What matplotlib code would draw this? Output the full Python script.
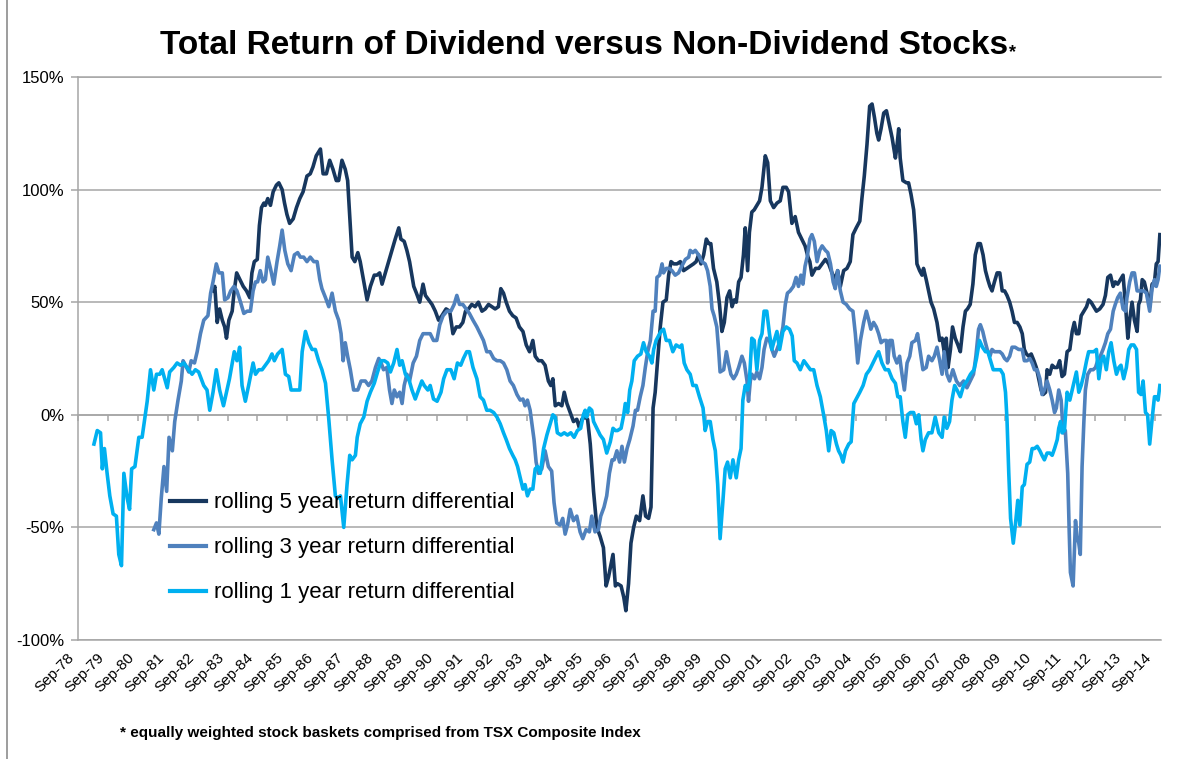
import matplotlib
matplotlib.use("Agg")
import matplotlib.pyplot as plt
import matplotlib.transforms as mtransforms
from matplotlib.lines import Line2D

# values: (decimal year, % differential)
roll5 = [
    (1983.18, 55), (1983.24, 57), (1983.32, 41), (1983.40, 47), (1983.49, 42), (1983.57, 39),
    (1983.63, 34), (1983.71, 42), (1983.82, 46), (1983.88, 54), (1983.97, 63), (1984.08, 60),
    (1984.19, 57), (1984.30, 55), (1984.41, 52), (1984.48, 63), (1984.56, 68), (1984.66, 69),
    (1984.73, 84), (1984.80, 92), (1984.88, 94), (1984.93, 93), (1985.01, 96), (1985.10, 93),
    (1985.19, 99), (1985.30, 102), (1985.38, 103), (1985.49, 100), (1985.57, 94), (1985.65, 89),
    (1985.74, 85), (1985.86, 87), (1985.97, 92), (1986.08, 96), (1986.19, 99), (1986.32, 106),
    (1986.43, 107), (1986.52, 110), (1986.63, 115), (1986.77, 118), (1986.86, 107), (1986.97, 107),
    (1987.08, 113), (1987.19, 109), (1987.30, 104), (1987.38, 104), (1987.49, 113), (1987.60, 109),
    (1987.68, 104), (1987.75, 88), (1987.83, 70), (1987.92, 68), (1988.02, 72), (1988.10, 68),
    (1988.22, 59), (1988.33, 51), (1988.44, 57), (1988.57, 62), (1988.66, 62), (1988.75, 63),
    (1988.83, 58), (1988.94, 63), (1989.05, 68), (1989.16, 73), (1989.27, 78), (1989.39, 83),
    (1989.46, 78), (1989.57, 77), (1989.66, 73), (1989.75, 68), (1989.89, 57), (1989.98, 54),
    (1990.09, 50), (1990.20, 58), (1990.28, 53), (1990.39, 51), (1990.50, 49), (1990.61, 46),
    (1990.72, 42), (1990.83, 44), (1990.97, 47), (1991.09, 46), (1991.20, 36), (1991.31, 39),
    (1991.42, 39), (1991.53, 41), (1991.62, 46), (1991.72, 47), (1991.83, 49), (1991.94, 48),
    (1992.05, 50), (1992.17, 46), (1992.28, 47), (1992.39, 49), (1992.50, 48), (1992.61, 47),
    (1992.72, 48), (1992.80, 56), (1992.89, 54), (1992.98, 50), (1993.09, 46), (1993.20, 44),
    (1993.31, 43), (1993.42, 39), (1993.54, 37), (1993.65, 31), (1993.76, 28), (1993.87, 33),
    (1993.95, 26), (1994.06, 24), (1994.17, 24), (1994.28, 22), (1994.39, 15), (1994.47, 13),
    (1994.54, 16), (1994.62, 4), (1994.73, 5), (1994.84, 4), (1994.92, 10), (1995.01, 5),
    (1995.12, 1), (1995.23, -3), (1995.34, -2), (1995.43, -6), (1995.51, -2), (1995.62, -1),
    (1995.70, -2), (1995.79, -13), (1995.90, -34), (1996.01, -50), (1996.12, -54), (1996.23, -59),
    (1996.32, -76), (1996.40, -72), (1996.46, -68), (1996.55, -62), (1996.63, -76), (1996.70, -75),
    (1996.82, -76), (1996.91, -81), (1996.98, -87), (1997.07, -75), (1997.15, -57), (1997.24, -50),
    (1997.33, -45), (1997.44, -47), (1997.55, -36), (1997.64, -45), (1997.74, -46), (1997.82, -41),
    (1997.89, 3), (1997.96, 10), (1998.04, 24), (1998.13, 39), (1998.22, 50), (1998.33, 51),
    (1998.41, 62), (1998.49, 68), (1998.58, 67), (1998.69, 67), (1998.80, 68), (1998.91, 64),
    (1999.02, 65), (1999.13, 66), (1999.24, 67), (1999.33, 68), (1999.41, 71), (1999.49, 67),
    (1999.58, 71), (1999.67, 78), (1999.75, 76), (1999.82, 76), (1999.91, 65), (2000.02, 59),
    (2000.11, 49), (2000.19, 37), (2000.27, 41), (2000.36, 52), (2000.45, 55), (2000.53, 48),
    (2000.60, 51), (2000.67, 50), (2000.75, 59), (2000.83, 61), (2000.91, 71), (2000.97, 83),
    (2001.05, 64), (2001.11, 81), (2001.19, 90), (2001.27, 91), (2001.36, 93), (2001.45, 95),
    (2001.53, 101), (2001.64, 115), (2001.72, 112), (2001.81, 95), (2001.92, 92), (2002.03, 94),
    (2002.14, 95), (2002.23, 101), (2002.34, 101), (2002.42, 99), (2002.53, 85), (2002.64, 88),
    (2002.75, 81), (2002.86, 78), (2002.97, 75), (2003.07, 70), (2003.13, 68), (2003.20, 62),
    (2003.32, 65), (2003.43, 65), (2003.54, 67), (2003.65, 69), (2003.76, 67), (2003.87, 63),
    (2003.98, 60), (2004.06, 64), (2004.15, 57), (2004.26, 64), (2004.37, 65), (2004.48, 68),
    (2004.57, 80), (2004.68, 83), (2004.80, 86), (2004.87, 96), (2004.95, 106), (2005.04, 120),
    (2005.13, 137), (2005.21, 138), (2005.29, 132), (2005.37, 125), (2005.43, 122), (2005.51, 127),
    (2005.60, 134), (2005.69, 135), (2005.77, 130), (2005.88, 123), (2005.99, 114), (2006.04, 119),
    (2006.10, 127), (2006.15, 114), (2006.24, 104), (2006.36, 103), (2006.43, 103), (2006.51, 98),
    (2006.60, 91), (2006.66, 80), (2006.71, 67), (2006.80, 64), (2006.88, 62), (2006.93, 65),
    (2007.02, 60), (2007.10, 55), (2007.18, 50), (2007.27, 47), (2007.38, 41), (2007.47, 33),
    (2007.55, 34), (2007.62, 28), (2007.69, 34), (2007.75, 21), (2007.83, 29), (2007.90, 39),
    (2007.99, 34), (2008.08, 31), (2008.16, 28), (2008.25, 39), (2008.33, 46), (2008.40, 47),
    (2008.49, 49), (2008.58, 58), (2008.66, 71), (2008.75, 76), (2008.83, 76), (2008.92, 71),
    (2009.00, 64), (2009.08, 60), (2009.15, 57), (2009.22, 55), (2009.30, 59), (2009.39, 63),
    (2009.48, 63), (2009.56, 55), (2009.64, 55), (2009.72, 53), (2009.81, 50), (2009.89, 46),
    (2009.97, 41), (2010.06, 41), (2010.15, 39), (2010.23, 36), (2010.30, 29), (2010.37, 27),
    (2010.45, 26), (2010.53, 27), (2010.62, 24), (2010.70, 21), (2010.78, 16), (2010.86, 11),
    (2010.93, 9), (2011.01, 10), (2011.06, 20), (2011.15, 18), (2011.23, 22), (2011.31, 21),
    (2011.40, 21), (2011.48, 24), (2011.56, 17), (2011.64, 18), (2011.73, 28), (2011.82, 29),
    (2011.90, 37), (2011.97, 41), (2012.04, 36), (2012.12, 36), (2012.20, 44), (2012.29, 46),
    (2012.38, 48), (2012.45, 51), (2012.53, 50), (2012.62, 48), (2012.71, 46), (2012.82, 47),
    (2012.93, 49), (2013.01, 53), (2013.09, 61), (2013.18, 62), (2013.27, 57), (2013.34, 59),
    (2013.42, 58), (2013.51, 60), (2013.60, 62), (2013.68, 49), (2013.76, 34), (2013.82, 42),
    (2013.90, 50), (2013.98, 42), (2014.07, 37), (2014.12, 49), (2014.18, 51), (2014.24, 60),
    (2014.31, 59), (2014.40, 54), (2014.49, 48), (2014.57, 58), (2014.65, 59), (2014.71, 67),
    (2014.77, 68), (2014.83, 80),
]

roll3 = [
    (1981.20, -51), (1981.29, -48), (1981.37, -53), (1981.45, -37), (1981.54, -23), (1981.63, -34),
    (1981.71, -10), (1981.82, -16), (1981.90, -3), (1982.01, 6.5), (1982.12, 15), (1982.18, 24),
    (1982.26, 22), (1982.37, 19), (1982.45, 24), (1982.56, 23), (1982.65, 28), (1982.76, 36),
    (1982.87, 42), (1983.01, 44), (1983.10, 54), (1983.18, 59), (1983.29, 67), (1983.38, 63),
    (1983.49, 63), (1983.57, 51), (1983.68, 52), (1983.77, 55), (1983.88, 57), (1983.98, 55),
    (1984.10, 50), (1984.21, 45), (1984.32, 46), (1984.43, 46), (1984.52, 55), (1984.60, 59),
    (1984.67, 59), (1984.76, 64), (1984.85, 59), (1984.93, 60), (1985.01, 70), (1985.10, 65),
    (1985.21, 58), (1985.32, 68), (1985.41, 75), (1985.49, 82), (1985.58, 73), (1985.68, 67),
    (1985.79, 64), (1985.90, 71), (1986.01, 72), (1986.10, 70), (1986.21, 70), (1986.32, 68),
    (1986.43, 70), (1986.55, 68), (1986.66, 68), (1986.75, 60), (1986.82, 56), (1986.94, 52),
    (1987.05, 48), (1987.16, 54), (1987.27, 46), (1987.38, 42), (1987.46, 36), (1987.53, 24),
    (1987.60, 32), (1987.68, 26), (1987.77, 20), (1987.88, 11), (1988.02, 11), (1988.13, 15),
    (1988.27, 15), (1988.38, 13), (1988.49, 15), (1988.61, 21), (1988.72, 25), (1988.80, 23),
    (1988.88, 20), (1988.99, 21), (1989.08, 11), (1989.16, 5), (1989.24, 11), (1989.33, 8),
    (1989.42, 10), (1989.50, 5), (1989.57, 13), (1989.66, 18), (1989.75, 15), (1989.87, 23),
    (1989.98, 26), (1990.09, 33), (1990.20, 36), (1990.31, 36), (1990.44, 36), (1990.55, 33),
    (1990.66, 33), (1990.76, 40), (1990.87, 44), (1991.00, 46), (1991.13, 46), (1991.24, 49),
    (1991.33, 53), (1991.42, 49), (1991.53, 49), (1991.64, 47), (1991.75, 45), (1991.87, 42),
    (1992.00, 39), (1992.11, 36), (1992.22, 33), (1992.33, 28), (1992.44, 28), (1992.56, 25),
    (1992.67, 24), (1992.78, 24), (1992.89, 23), (1993.00, 20), (1993.11, 15), (1993.22, 13),
    (1993.34, 9), (1993.45, 6.5), (1993.54, 7), (1993.61, 4), (1993.69, 6.5), (1993.78, 2),
    (1993.84, -4), (1993.91, -11), (1993.98, -21), (1994.06, -26), (1994.17, -24), (1994.28, -16),
    (1994.39, -23), (1994.50, -25), (1994.58, -39), (1994.67, -48), (1994.78, -49), (1994.87, -46),
    (1994.95, -53), (1995.03, -49), (1995.12, -42), (1995.23, -47), (1995.34, -45), (1995.45, -52),
    (1995.54, -55), (1995.65, -51), (1995.76, -52), (1995.84, -45), (1995.95, -52), (1996.06, -51),
    (1996.14, -45), (1996.25, -41), (1996.34, -36), (1996.43, -26), (1996.52, -20), (1996.59, -20),
    (1996.68, -16), (1996.77, -21), (1996.85, -14), (1996.93, -21), (1997.02, -15), (1997.11, -11),
    (1997.22, -5), (1997.30, 2), (1997.37, 2), (1997.46, 8), (1997.55, 13), (1997.63, 21),
    (1997.71, 28), (1997.80, 33), (1997.89, 46), (1997.96, 46), (1998.02, 61), (1998.11, 62),
    (1998.19, 67), (1998.24, 63), (1998.33, 65), (1998.44, 65), (1998.52, 64), (1998.63, 62),
    (1998.74, 63), (1998.85, 66), (1998.97, 69), (1999.08, 70), (1999.13, 73), (1999.22, 72),
    (1999.30, 73), (1999.41, 71), (1999.52, 68), (1999.63, 67), (1999.71, 64), (1999.80, 57),
    (1999.86, 47), (1999.93, 44), (2000.02, 39), (2000.08, 29), (2000.13, 19), (2000.25, 20),
    (2000.34, 28), (2000.41, 23), (2000.49, 18), (2000.58, 16), (2000.67, 18), (2000.75, 21),
    (2000.86, 26), (2000.94, 23), (2001.03, 15), (2001.08, 6), (2001.14, 15), (2001.19, 18),
    (2001.28, 16), (2001.36, 19), (2001.45, 16), (2001.53, 21), (2001.60, 29), (2001.69, 34),
    (2001.78, 33), (2001.86, 29), (2001.94, 26), (2002.03, 29), (2002.14, 33), (2002.23, 39),
    (2002.31, 49), (2002.38, 54), (2002.47, 55), (2002.58, 57), (2002.67, 61), (2002.75, 57),
    (2002.83, 62), (2002.90, 58), (2002.97, 66), (2003.04, 70), (2003.13, 78), (2003.20, 80),
    (2003.28, 77), (2003.37, 68), (2003.46, 73), (2003.54, 75), (2003.65, 73), (2003.73, 72),
    (2003.82, 67), (2003.91, 59), (2003.98, 56), (2004.06, 64), (2004.15, 55), (2004.24, 50),
    (2004.35, 49), (2004.46, 47), (2004.57, 46), (2004.65, 36), (2004.73, 23), (2004.82, 33),
    (2004.93, 41), (2005.02, 46), (2005.10, 42), (2005.17, 38), (2005.26, 41), (2005.35, 39),
    (2005.43, 36), (2005.51, 32), (2005.60, 33), (2005.69, 33), (2005.73, 23), (2005.80, 33),
    (2005.88, 33), (2005.95, 26), (2006.04, 23), (2006.13, 26), (2006.21, 18), (2006.29, 11),
    (2006.38, 23), (2006.47, 26), (2006.54, 32), (2006.66, 33), (2006.73, 36), (2006.82, 28),
    (2006.91, 20), (2007.02, 21), (2007.10, 26), (2007.21, 24), (2007.29, 26), (2007.38, 30),
    (2007.47, 24), (2007.55, 18), (2007.62, 28), (2007.71, 18), (2007.80, 15), (2007.91, 20),
    (2008.03, 15), (2008.14, 13), (2008.27, 15), (2008.38, 12), (2008.49, 15), (2008.60, 18),
    (2008.68, 26), (2008.77, 38), (2008.83, 40), (2008.91, 37), (2008.98, 33), (2009.06, 29),
    (2009.15, 26), (2009.22, 29), (2009.30, 28), (2009.39, 28), (2009.48, 28), (2009.56, 27),
    (2009.64, 25), (2009.72, 24), (2009.81, 26), (2009.89, 30), (2009.99, 30), (2010.11, 29),
    (2010.23, 29), (2010.30, 24), (2010.39, 24), (2010.48, 25), (2010.56, 23), (2010.64, 20),
    (2010.73, 20), (2010.82, 16), (2010.89, 9), (2010.97, 11), (2011.06, 15), (2011.15, 11),
    (2011.23, 6.5), (2011.31, 1), (2011.37, 3), (2011.45, 11), (2011.53, 6.5), (2011.60, -8),
    (2011.67, -7), (2011.75, -26), (2011.80, -52), (2011.84, -70), (2011.93, -76), (2012.01, -47),
    (2012.06, -54), (2012.12, -57), (2012.17, -62), (2012.23, -23), (2012.29, -3), (2012.34, 11),
    (2012.42, 18), (2012.51, 20), (2012.60, 20), (2012.68, 21), (2012.75, 24), (2012.84, 26),
    (2012.93, 29), (2013.01, 32), (2013.09, 36), (2013.18, 38), (2013.27, 46), (2013.34, 49),
    (2013.42, 52), (2013.51, 54), (2013.60, 47), (2013.68, 46), (2013.73, 52), (2013.82, 59),
    (2013.90, 63), (2013.98, 63), (2014.07, 55), (2014.18, 55), (2014.29, 55), (2014.38, 54),
    (2014.49, 46), (2014.57, 56), (2014.65, 60), (2014.71, 57), (2014.77, 60), (2014.83, 66),
]

roll1 = [
    (1979.20, -13), (1979.31, -7), (1979.42, -8), (1979.48, -24), (1979.55, -15), (1979.64, -26),
    (1979.73, -36), (1979.84, -44), (1979.95, -45), (1980.03, -62), (1980.12, -67), (1980.20, -26),
    (1980.31, -37), (1980.39, -42), (1980.46, -24), (1980.57, -23), (1980.70, -10), (1980.81, -10),
    (1980.98, 6), (1981.09, 20), (1981.20, 11), (1981.29, 18), (1981.40, 18), (1981.48, 20),
    (1981.65, 12), (1981.73, 19), (1981.87, 21), (1981.98, 23), (1982.09, 22), (1982.20, 23),
    (1982.37, 20), (1982.48, 18), (1982.59, 20), (1982.70, 19), (1982.87, 13), (1982.98, 11),
    (1983.07, 2), (1983.18, 10), (1983.29, 20), (1983.40, 11), (1983.53, 4), (1983.73, 16),
    (1983.89, 28), (1983.98, 24), (1984.07, 30), (1984.15, 13), (1984.26, 6), (1984.37, 13),
    (1984.52, 23), (1984.60, 18), (1984.71, 20), (1984.82, 20), (1984.93, 22), (1985.04, 24),
    (1985.15, 27), (1985.23, 24), (1985.34, 27), (1985.49, 29), (1985.60, 18), (1985.71, 17),
    (1985.79, 11), (1985.93, 11), (1986.08, 11), (1986.16, 28), (1986.27, 37), (1986.38, 32),
    (1986.49, 29), (1986.60, 29), (1986.71, 24), (1986.82, 20), (1986.94, 14), (1987.05, -2),
    (1987.16, -20), (1987.27, -36), (1987.35, -37), (1987.44, -36), (1987.55, -50), (1987.66, -31),
    (1987.75, -18), (1987.83, -20), (1987.94, -18), (1988.00, -10), (1988.10, -4), (1988.22, -1),
    (1988.33, 6), (1988.44, 10), (1988.57, 14), (1988.68, 19), (1988.80, 24), (1988.91, 24),
    (1989.02, 23), (1989.11, 19), (1989.22, 23), (1989.33, 29), (1989.42, 22), (1989.50, 24),
    (1989.61, 18), (1989.72, 16), (1989.83, 11), (1989.94, 7), (1990.05, 11), (1990.16, 15),
    (1990.24, 13), (1990.36, 11), (1990.44, 13), (1990.55, 7), (1990.67, 6), (1990.80, 10),
    (1990.89, 16), (1991.00, 20), (1991.13, 20), (1991.24, 16), (1991.35, 23), (1991.46, 22),
    (1991.55, 25), (1991.66, 28), (1991.75, 28), (1991.87, 21), (1992.00, 16), (1992.11, 8),
    (1992.22, 6.5), (1992.33, 2), (1992.44, 2), (1992.56, 1), (1992.67, -1), (1992.78, -4),
    (1992.89, -8), (1992.98, -11), (1993.09, -15), (1993.20, -18), (1993.28, -20), (1993.36, -23),
    (1993.45, -28), (1993.54, -33), (1993.61, -31), (1993.69, -36), (1993.78, -33), (1993.87, -33),
    (1993.95, -24), (1994.03, -23), (1994.12, -26), (1994.23, -15), (1994.34, -9), (1994.45, -4),
    (1994.54, 0), (1994.62, -1), (1994.69, -8), (1994.81, -9), (1994.92, -8), (1995.03, -9),
    (1995.14, -8), (1995.25, -10), (1995.36, -7), (1995.47, -6), (1995.56, 0), (1995.62, 2),
    (1995.67, -1), (1995.76, 3), (1995.84, 2), (1995.90, -3), (1996.01, -6), (1996.12, -9),
    (1996.23, -11), (1996.34, -17), (1996.46, -12), (1996.55, -6), (1996.63, -7), (1996.70, -7),
    (1996.82, -6), (1996.91, 0), (1996.96, 5), (1997.04, 1), (1997.11, 11), (1997.18, 15),
    (1997.26, 24), (1997.37, 26), (1997.48, 27), (1997.57, 32), (1997.66, 28), (1997.77, 26),
    (1997.85, 23), (1997.91, 29), (1997.99, 33), (1998.07, 35), (1998.15, 37), (1998.24, 38),
    (1998.33, 33), (1998.44, 33), (1998.55, 28), (1998.66, 31), (1998.78, 30), (1998.85, 31),
    (1998.93, 23), (1999.02, 20), (1999.13, 18), (1999.22, 13), (1999.33, 13), (1999.44, 8),
    (1999.56, 3), (1999.63, -7), (1999.71, -3), (1999.80, -3), (1999.89, -11), (1999.97, -16),
    (2000.05, -31), (2000.13, -55), (2000.22, -39), (2000.30, -24), (2000.38, -21), (2000.47, -28),
    (2000.56, -20), (2000.67, -28), (2000.75, -20), (2000.83, -15), (2000.89, 6.5), (2000.97, 13),
    (2001.05, 11), (2001.11, 15), (2001.19, 34), (2001.27, 33), (2001.36, 20), (2001.45, 33),
    (2001.53, 36), (2001.60, 46), (2001.69, 46), (2001.78, 36), (2001.86, 29), (2001.94, 33),
    (2002.03, 37), (2002.12, 29), (2002.23, 37), (2002.34, 39), (2002.45, 38), (2002.54, 35),
    (2002.61, 24), (2002.70, 23), (2002.81, 20), (2002.93, 24), (2003.04, 22), (2003.15, 20),
    (2003.26, 20), (2003.37, 13), (2003.48, 8), (2003.59, 0), (2003.68, -7), (2003.76, -16),
    (2003.84, -7), (2003.93, -8), (2004.02, -13), (2004.09, -16), (2004.17, -18), (2004.24, -21),
    (2004.32, -16), (2004.43, -13), (2004.51, -12), (2004.60, 5), (2004.68, 7), (2004.80, 10),
    (2004.91, 13), (2005.02, 18), (2005.13, 20), (2005.24, 23), (2005.35, 26), (2005.43, 28),
    (2005.54, 23), (2005.65, 20), (2005.76, 20), (2005.88, 16), (2005.99, 14), (2006.07, 8),
    (2006.15, 8), (2006.24, -3), (2006.32, -10), (2006.40, 0), (2006.49, 1), (2006.60, 1),
    (2006.69, -4), (2006.77, 0), (2006.85, -11), (2006.91, -16), (2006.99, -11), (2007.10, -8),
    (2007.21, -8), (2007.32, -1), (2007.44, -8), (2007.55, -10), (2007.62, -1), (2007.71, -6),
    (2007.80, -3), (2007.88, 6.5), (2007.97, 13), (2008.05, 11), (2008.16, 8), (2008.27, 13),
    (2008.38, 15), (2008.50, 18), (2008.62, 20), (2008.70, 25), (2008.80, 33), (2008.90, 30),
    (2009.00, 28), (2009.08, 28), (2009.17, 24), (2009.26, 20), (2009.37, 20), (2009.50, 20),
    (2009.59, 18), (2009.67, 10), (2009.72, -2), (2009.78, -26), (2009.84, -46), (2009.93, -57),
    (2010.00, -49), (2010.08, -38), (2010.15, -49), (2010.23, -32), (2010.30, -31), (2010.39, -22),
    (2010.48, -21), (2010.56, -15), (2010.64, -15), (2010.73, -14), (2010.82, -16), (2010.89, -18),
    (2010.97, -20), (2011.06, -17), (2011.15, -17), (2011.23, -18), (2011.31, -15), (2011.40, -11),
    (2011.45, -6), (2011.51, -3), (2011.56, -8), (2011.64, -7), (2011.73, 10), (2011.82, 6.5),
    (2011.90, 11), (2011.97, 15), (2012.04, 19), (2012.12, 10), (2012.20, 13), (2012.29, 18),
    (2012.38, 24), (2012.45, 28), (2012.53, 28), (2012.62, 28), (2012.71, 29), (2012.79, 16),
    (2012.87, 24), (2012.95, 26), (2013.04, 20), (2013.12, 28), (2013.20, 32), (2013.29, 24),
    (2013.38, 18), (2013.46, 21), (2013.53, 22), (2013.62, 16), (2013.71, 21), (2013.79, 29),
    (2013.87, 31), (2013.96, 31), (2014.05, 29), (2014.12, 10), (2014.20, 9), (2014.27, 15),
    (2014.35, 1), (2014.42, 0), (2014.49, -13), (2014.57, -2), (2014.65, 8), (2014.71, 8),
    (2014.77, 6.5), (2014.83, 13),
]

series_labels = ['rolling 5 year return differential',
                 'rolling 3 year return differential',
                 'rolling 1 year return differential']
series_colors = ['#17375E', '#4F81BD', '#00B0F0']

tick_years = list(range(1978, 2015))
tick_labels = ['Sep-%02d' % (y % 100) for y in tick_years]
y_ticks = [-100, -50, 0, 50, 100, 150]

title = 'Total Return of Dividend versus Non-Dividend Stocks'
footnote = '* equally weighted stock baskets comprised from TSX Composite Index'

GRID = '#A6A6A6'
SANS = ['Liberation Sans', 'DejaVu Sans']

plt.rcParams['font.family'] = SANS

fig = plt.figure(figsize=(11.89, 7.59), dpi=100)
ax = fig.add_axes([0.0656, 0.1568, 0.9109, 0.7418])

for data, lbl, col in zip([roll5, roll3, roll1], series_labels, series_colors):
    xs, ys = zip(*data)
    ax.plot(xs, ys, color=col, lw=2.6, label=lbl, solid_joinstyle='round')

sep = 8 / 12.0   # September offset within the year
ax.set_xlim(1978 + sep, 2014.87)
ax.set_ylim(-100, 150)

ax.set_yticks(y_ticks)
ax.set_yticklabels(['%d%%' % v for v in y_ticks], fontsize=12)
ax.yaxis.grid(True, color=GRID, lw=1.1)
ax.tick_params(axis='y', length=5, width=1.1, color=GRID, pad=5)

ax.set_xticks([y + sep for y in tick_years])
ax.set_xticklabels(tick_labels, fontsize=11, rotation=45, ha='right',
                   va='center', rotation_mode='anchor')
ax.tick_params(axis='x', length=0, pad=11)
shift = mtransforms.ScaledTranslation(-6 / 100.0, 0, fig.dpi_scale_trans)
for lab in ax.get_xticklabels():
    lab.set_transform(lab.get_transform() + shift)

for side in ['top', 'bottom', 'left']:
    ax.spines[side].set_color(GRID)
    ax.spines[side].set_linewidth(1.1)
ax.spines['right'].set_visible(False)

# category axis crosses at 0%, with its year tick marks there
zero_frac = (0 - y_ticks[0]) / float(y_ticks[-1] - y_ticks[0])
sec = ax.secondary_xaxis(zero_frac)
sec.set_xticks([y + sep for y in tick_years])
sec.tick_params(axis='x', length=4, width=1.1, color=GRID, labelbottom=False)
sec.spines['bottom'].set_color(GRID)
sec.spines['bottom'].set_linewidth(1.1)

leg = ax.legend(loc='upper left', bbox_to_anchor=(0.085, 0.262), frameon=False,
                fontsize=16, handlelength=1.6, handletextpad=0.38,
                labelspacing=1.08, borderpad=0, borderaxespad=0)
for h in leg.get_lines():
    h.set_linewidth(3.0)

t = fig.text(0.491, 1 - 46 / 759.0, title, ha='center', va='center',
             fontsize=24, fontweight='bold')
ax.annotate('*', xy=(1.0, 0.0), xycoords=t, xytext=(1, 0), textcoords='offset points',
            ha='left', va='bottom', fontsize=13, fontweight='bold',
            annotation_clip=False)

fig.text(120 / 1189.0, 1 - 733 / 759.0, footnote, ha='left', va='center',
         fontsize=11, fontweight='bold')

fig.add_artist(Line2D([7 / 1189.0, 7 / 1189.0], [0, 1], color='#8C8C8C', lw=1.2))

fig.savefig('out.png', dpi=100)
